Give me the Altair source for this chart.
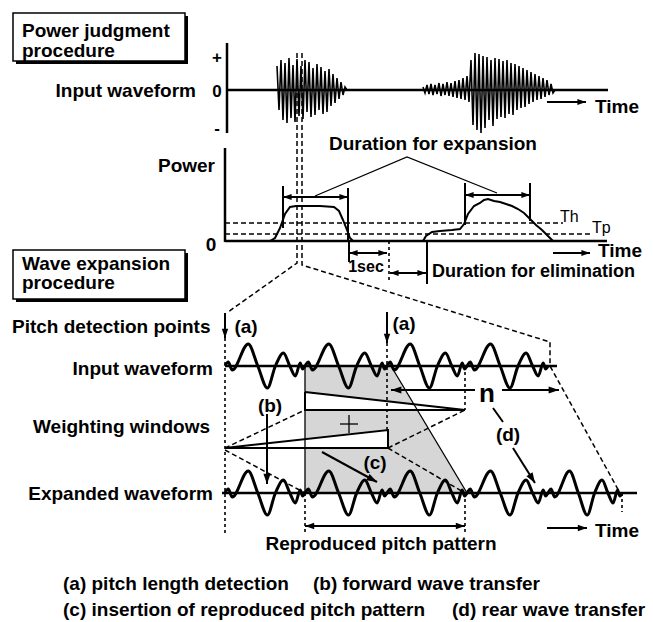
import math
import altair as alt
import pandas as pd

W, H = 653, 622
FONT = "Liberation Sans"

# ---------------- text labels (text, x, baseline y, size) ----------------
TEXT_LEFT = [
    ("Power judgment", 22, 37, 19), ("procedure", 22, 57, 19),
    ("Wave expansion", 22, 270, 19), ("procedure", 22, 289, 19),
    ("Time", 595, 113, 19), ("Time", 598, 257, 19),
    ("Duration for elimination", 432, 277, 18),
    ("Pitch detection points", 12, 333, 19),
    ("Time", 595, 537, 19),
    ("(a) pitch length detection", 63, 590, 19),
    ("(b) forward wave transfer", 313, 590, 19),
    ("(c) insertion of reproduced pitch pattern", 63, 616, 19),
    ("(d) rear wave transfer", 452, 616, 19),
]
TEXT_LEFT_THIN = [("Th", 560, 222, 16), ("Tp", 592, 233, 16)]
TEXT_RIGHT = [
    ("Input waveform", 196, 97, 19), ("Power", 215, 172, 19),
    ("Input waveform", 213, 375, 19), ("Weighting windows", 210, 433, 19),
    ("Expanded waveform", 213, 500, 19),
]
TEXT_CENTER = [
    ("+", 217, 63, 17), ("0", 217, 97, 17), ("-", 217, 134, 17),
    ("0", 211, 251, 19), ("Duration for expansion", 433, 150, 19),
    ("1sec", 366, 272, 16), ("(a)", 246, 333, 19), ("(a)", 404, 330, 19),
    ("(b)", 270, 412, 19), ("(c)", 375, 469, 19), ("(d)", 508, 441, 19),
    ("n", 487, 402, 26), ("Reproduced pitch pattern", 381, 550, 19),
]

# ---------------- power judgment: input waveform ----------------
WAVE_ZERO = 90
BURST1_X0 = 277
BURST1 = [24, -20, 30, -30, 27, -33, 32, -28, 25, -32, 31, -26, 24, -29, 30, -22,
          28, -27, 22, -25, 26, -20, 23, -24, 19, -22, 21, -16, 16, -13, 12, -9, 8, -5, 3, 0]
BURST2_X0 = 423
BURST2 = [3, -3, 5, -4, 6, -5, 5, -4, 7, -6, 6, -5, 8, -6, 7, -7, 9, -8, 10, -9, 12, -10,
          14, -12, 30, -35, 37, -40, 36, -43, 34, -38, 33, -30, 30, -36, 32, -29, 31, -27,
          29, -28, 30, -24, 27, -25, 26, -20, 24, -18, 22, -17, 20, -14, 18, -12, 16, -10,
          14, -9, 12, -7, 10, -5, 6, -3, 0]
BURST_STEP = 2

# ---------------- power judgment: power panel ----------------
POWER_CURVE1 = [(225, 241), (270, 241), (275, 238), (280, 228), (285, 214), (290, 207),
                (296, 206), (320, 206), (334, 207), (339, 211), (343, 220), (347, 230),
                (350, 238), (353, 241)]
POWER_CURVE2 = [(423, 241), (426, 236), (432, 232), (440, 231), (452, 230), (460, 229),
                (464, 224), (468, 214), (474, 206), (480, 203), (484, 200), (488, 199),
                (494, 201), (500, 202), (506, 204), (512, 206), (518, 209), (524, 213),
                (530, 219), (536, 225), (542, 230), (548, 236), (553, 241)]

SOLID_THICK = [
    [(227, 43), (227, 133)], [(227, 90), (608, 90)],          # waveform axes
    [(225, 148), (225, 242)], [(225, 241), (607, 241)],       # power axes
    [(225, 366), (557, 366)], [(222, 493), (637, 493)],       # expansion baselines
]
SOLID_MED = [
    POWER_CURVE1, POWER_CURVE2,
    [(283, 186), (283, 228)], [(348, 188), (348, 241)],
    [(465, 183), (465, 225)], [(530, 183), (530, 221)],
    [(349, 241), (349, 262)], [(427, 241), (427, 284)],
    [(305, 392), (465, 410), (305, 410), (305, 392)],          # window 1
    [(225, 448), (388, 430), (388, 448), (225, 448)],          # window 2
    [(493, 408), (503, 422)],
]
SOLID_THIN = [
    [(315, 196), (407, 157), (497, 193)],
    [(305, 366), (305, 493)], [(391, 366), (467, 493)],
    [(340, 424), (358, 424)], [(349, 415), (349, 433)],
]
# arrows: shaft points, head at start?, head at end?, head size
ARROWS = [
    ([(283, 197), (348, 197)], True, True, 56),
    ([(465, 195), (530, 195)], True, True, 56),
    ([(349, 253), (387, 253)], True, True, 56),
    ([(390, 273), (426, 273)], True, True, 56),
    ([(547, 102), (586, 102)], False, True, 56),
    ([(553, 253), (590, 253)], False, True, 56),
    ([(225, 313), (225, 338)], False, True, 64),
    ([(387, 312), (387, 343)], False, True, 64),
    ([(475, 390), (391, 390)], False, True, 81),
    ([(502, 390), (559, 390)], False, True, 81),
    ([(513, 448), (535, 483)], False, True, 81),
    ([(267, 414), (267, 484)], False, True, 81),
    ([(322, 452), (377, 482)], False, True, 81),
    ([(305, 526), (465, 526)], True, True, 64),
    ([(547, 528), (587, 528)], False, True, 64),
]
DASHED = [
    [(225, 223), (563, 223)], [(225, 234), (590, 234)],
    [(297, 53), (297, 263), (228, 312)],
    [(302, 53), (302, 265), (550, 342), (550, 366), (620, 493)],
    [(225, 448), (305, 410)], [(225, 450), (305, 493)],
    [(388, 448), (465, 410)], [(388, 448), (465, 493)],
]
DOTTED = [
    [(389, 241), (389, 283)],
    [(225, 338), (225, 533)], [(387, 343), (387, 430)], [(465, 366), (465, 410)],
    [(305, 493), (305, 533)], [(465, 493), (465, 533)], [(622, 493), (622, 512)],
]

# ---------------- wave expansion ----------------
INPUT_ZERO, EXPANDED_ZERO = 366, 493
INPUT_BOUNDS = [225, 305, 387, 467, 548]
EXPANDED_BOUNDS = [225, 305, 387, 467, 548, 622]
PERIOD_T = [0, .04, .09, .29, .41, .53, .63, .73, .81, .88, .94, .97, 1]
PERIOD_V = [0, 4, -4, 22, 0, -22, 0, 13, 0, -10, 3, -3, 0]

SHADE_X, SHADE_TOP, SHADE_BOT = [305, 391, 467], [366, 366, 493], [493, 493, 493]
WIN1_X, WIN1_TOP, WIN1_BOT = [305, 465], [392, 410], [410, 410]
WIN2_X, WIN2_TOP, WIN2_BOT = [225, 388], [448, 430], [448, 448]

BOXES = [(13, 13, 185, 61), (13, 250, 185, 299)]
SHADOW = 3

# ---------------- build ----------------
XS = alt.Scale(domain=[0, W], nice=False, zero=False)
YS = alt.Scale(domain=[0, H], nice=False, zero=False, reverse=True)
X = alt.X("x:Q", scale=XS, axis=None)
Y = alt.Y("y:Q", scale=YS, axis=None, stack=None)


def seg_df(segments):
    rows = []
    for i, pts in enumerate(segments):
        for j, (x, y) in enumerate(pts):
            rows.append(dict(id=i, ord=j, x=x, y=y))
    return pd.DataFrame(rows)


def lines(segments, width, dash=None, interp="linear"):
    kw = dict(color="black", strokeWidth=width, interpolate=interp, strokeCap="butt",
              strokeJoin="miter")
    if dash:
        kw["strokeDash"] = dash
    return alt.Chart(seg_df(segments)).mark_line(**kw).encode(
        x=X, y=Y, detail="id:N", order="ord:Q")


def zigzag(x0, vals, zero):
    return [(x0 + BURST_STEP * i, zero - v) for i, v in enumerate(vals)]


def wave(bounds, zero):
    pts = []
    for a, b in zip(bounds[:-1], bounds[1:]):
        for k, (t, v) in enumerate(zip(PERIOD_T, PERIOD_V)):
            if pts and k == 0:
                continue
            pts.append((a + t * (b - a), zero - v))
    return pts


def area(xs, top, bot, fill):
    df = pd.DataFrame({"x": xs, "y": top, "y2": bot})
    return alt.Chart(df).mark_area(color=fill, opacity=1, interpolate="linear").encode(
        x=X, y=Y, y2="y2:Q")


shaft_segments = [a[0] for a in ARROWS]
heads = []
for pts, at_start, at_end, size in ARROWS:
    ends = []
    if at_end:
        ends.append((pts[-1], pts[-2]))
    if at_start:
        ends.append((pts[0], pts[1]))
    for (tx, ty), (bx, by) in ends:
        ang = math.degrees(math.atan2(tx - bx, -(ty - by))) % 360
        heads.append(dict(x=tx, y=ty, angle=ang, size=size))
heads_df = pd.DataFrame(heads)
ARROW_PATH = "M0,0L0.8,2.3L-0.8,2.3Z"

box_df = pd.DataFrame([dict(x=a + SHADOW, y=b + SHADOW, x2=c + SHADOW, y2=d + SHADOW)
                       for (a, b, c, d) in BOXES])
face_df = pd.DataFrame([dict(x=a, y=b, x2=c, y2=d) for (a, b, c, d) in BOXES])

shadow = alt.Chart(box_df).mark_rect(color="black").encode(x=X, y=Y, x2="x2:Q", y2="y2:Q")
faces = alt.Chart(face_df).mark_rect(fill="white", stroke="black", strokeWidth=1.5).encode(
    x=X, y=Y, x2="x2:Q", y2="y2:Q")


def texts(rows, align, weight="bold"):
    df = pd.DataFrame(rows, columns=["text", "x", "y", "size"])
    return alt.Chart(df).mark_text(align=align, baseline="alphabetic", font=FONT,
                                   fontWeight=weight, color="black").encode(
        x=X, y=Y, text="text:N", size=alt.Size("size:Q", scale=None))


layers = [
    shadow, faces,
    area(SHADE_X, SHADE_TOP, SHADE_BOT, "#d6d6d6"),
    area(WIN1_X, WIN1_TOP, WIN1_BOT, "white"),
    area(WIN2_X, WIN2_TOP, WIN2_BOT, "white"),
    lines(DASHED, 1.5, dash=[5, 3]),
    lines(DOTTED, 1.6, dash=[3, 3]),
    lines([zigzag(BURST1_X0, BURST1, WAVE_ZERO), zigzag(BURST2_X0, BURST2, WAVE_ZERO)], 1.6),
    lines(SOLID_THICK, 2.5),
    lines(SOLID_MED, 2),
    lines(SOLID_THIN, 1.3),
    lines(shaft_segments, 2),
    lines([wave(INPUT_BOUNDS, INPUT_ZERO), wave(EXPANDED_BOUNDS, EXPANDED_ZERO)], 3,
          interp="monotone"),
    alt.Chart(heads_df).mark_point(shape=ARROW_PATH, filled=True, color="black", opacity=1,
                                   strokeWidth=0).encode(
        x=X, y=Y, angle=alt.Angle("angle:Q", scale=None), size=alt.Size("size:Q", scale=None)),
    texts(TEXT_LEFT, "left"),
    texts(TEXT_LEFT_THIN, "left", weight="normal"),
    texts(TEXT_RIGHT, "right"),
    texts(TEXT_CENTER, "center"),
]

chart = alt.layer(*layers).properties(
    width=W, height=H, padding=0, autosize="none", background="white"
).configure_view(stroke=None)

chart.save("out.html", embed_options={"renderer": "svg", "actions": False})
